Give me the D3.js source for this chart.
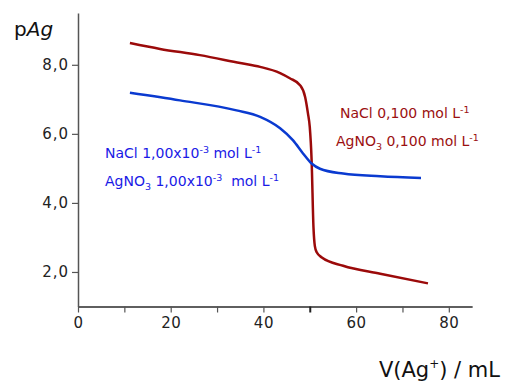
<!DOCTYPE html>
<html><head><meta charset="utf-8">
<script src="https://cdn.jsdelivr.net/npm/d3@7"></script>
<style>
body{margin:0;background:#fff;}
text{font-family:"DejaVu Sans",sans-serif;}
</style></head>
<body><svg id="c" width="506" height="385"></svg>
<script>
// Data (V in mL, pAg)
const redV   = [11.2, 17.7, 26.3, 35.0, 39.3, 43.6, 45.7, 47.9, 49.0, 49.6, 50.0, 50.4, 50.8, 51.1, 51.5, 52.6, 57.2, 65.2, 75.5];
const redPAg = [8.63, 8.46, 8.28, 8.05, 7.94, 7.76, 7.61, 7.41, 7.07, 6.60, 6.20, 5.23, 3.29, 2.75, 2.57, 2.42, 2.18, 1.95, 1.67];
const blueV   = [11.2, 22.0, 34.2, 39.3, 43.6, 46.4, 48.5, 50.4, 52.2, 57.2, 65.2, 74.0];
const bluePAg = [7.19, 6.97, 6.68, 6.49, 6.16, 5.81, 5.44, 5.14, 4.99, 4.85, 4.77, 4.72];
const xMajor = [0, 20, 40, 60, 80];
const xMinor = [10, 30, 50, 70];
const yTicks = [2, 4, 6, 8];
const yLabels = ["2,0", "4,0", "6,0", "8,0"];
const redLabel1 = ["NaCl 0,100 mol L", "-1"];
const redLabel2 = ["AgNO", "3", " 0,100 mol L", "-1"];
const blueLabel1 = ["NaCl 1,00x10", "-3", " mol L", "-1"];
const blueLabel2 = ["AgNO", "3", " 1,00x10", "-3", "  mol L", "-1"];

const svg = d3.select("#c");
const x = d3.scaleLinear().domain([0, 85]).range([78, 472]);
const y = d3.scaleLinear().domain([1, 9.5]).range([306.5, 13]);
const axisColor = "#555";
const FONT = '"DejaVu Sans",sans-serif';

// X axis
const gx = svg.append("g").attr("transform", `translate(0,${y(1)})`);
gx.call(d3.axisBottom(x).tickValues(xMajor).tickSize(6).tickSizeOuter(0).tickFormat(d3.format("d")));
gx.append("g").call(d3.axisBottom(x).tickValues(xMinor).tickSize(6).tickSizeOuter(0).tickFormat(""));
gx.selectAll(".domain").attr("stroke", axisColor).attr("stroke-width", 1.5);
gx.selectAll(".tick line").attr("stroke", axisColor).attr("stroke-width", 1.2);
gx.selectAll(".tick line").filter(d => d === 50).attr("stroke", "#222").attr("stroke-width", 2);
gx.selectAll(".tick text").attr("font-size", 15).attr("fill", "#222").attr("dy", "0.85em")
  .style("font-family", FONT).style("letter-spacing", "0.5px");

// Y axis
const gy = svg.append("g").attr("transform", `translate(${x(0)},0)`);
gy.call(d3.axisLeft(y).tickValues(yTicks).tickSize(6).tickSizeOuter(0).tickFormat((d, i) => yLabels[i]));
gy.selectAll(".domain").attr("stroke", axisColor).attr("stroke-width", 1.5);
gy.selectAll(".tick line").attr("stroke", axisColor).attr("stroke-width", 1.2);
gy.selectAll(".tick text").attr("font-size", 15).attr("fill", "#222").attr("x", -9)
  .style("font-family", FONT).style("letter-spacing", "1px");

// Axis titles
const yt = svg.append("text").attr("x", 14).attr("y", 36).attr("font-size", 20).attr("fill", "#111");
yt.append("tspan").text("p");
yt.append("tspan").attr("font-style", "italic").text("Ag");
const xt = svg.append("text").attr("x", 500).attr("y", 377).attr("text-anchor", "end").attr("font-size", 21).attr("fill", "#111");
xt.append("tspan").text("V(Ag");
xt.append("tspan").attr("font-size", 12).attr("dy", -9).text("+");
xt.append("tspan").attr("dy", 9).text(") / mL");

// Curves
const line = d3.line().x(d => x(d[0])).y(d => y(d[1])).curve(d3.curveMonotoneX);
svg.append("path").datum(redV.map((v, i) => [v, redPAg[i]]))
  .attr("d", line).attr("fill", "none").attr("stroke", "#9b0a0a").attr("stroke-width", 2.5);
svg.append("path").datum(blueV.map((v, i) => [v, bluePAg[i]]))
  .attr("d", line).attr("fill", "none").attr("stroke", "#0a3ad0").attr("stroke-width", 2.5);

// Labels
function richText(parts, xp, yp, color, kinds) {
  const t = svg.append("text").attr("x", xp).attr("y", yp).attr("font-size", 14)
    .attr("fill", color).style("white-space", "pre");
  parts.forEach((s, i) => {
    const tsp = t.append("tspan").text(s);
    if (kinds[i] === "sup") tsp.attr("font-size", 9.5).attr("baseline-shift", "5");
    if (kinds[i] === "sub") tsp.attr("font-size", 9.5).attr("baseline-shift", "-4");
  });
  return t;
}
const red = "#9b1010", blue = "#1a1ae6";
richText(redLabel1, 340, 118, red, ["", "sup"]);
richText(redLabel2, 336, 146, red, ["", "sub", "", "sup"]);
richText(blueLabel1, 105, 158, blue, ["", "sup", "", "sup"]);
richText(blueLabel2, 105, 186, blue, ["", "sub", "", "sup", "", "sup"]);
</script></body></html>
